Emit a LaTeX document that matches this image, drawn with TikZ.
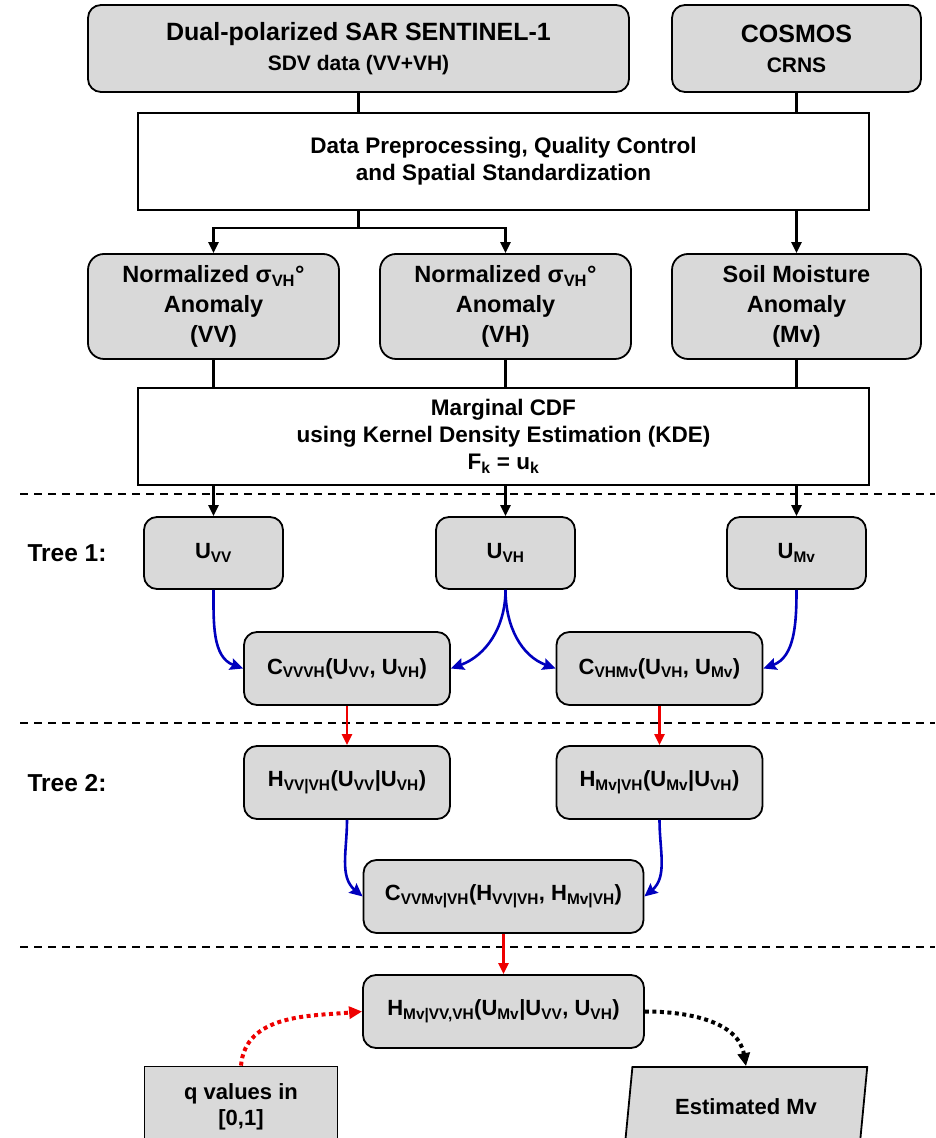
\documentclass[tikz,border=0pt]{standalone}
\usepackage{fontspec}
\setmainfont{Liberation Sans}
\usetikzlibrary{arrows.meta,shapes.geometric}
\definecolor{boxgray}{HTML}{D9D9D9}
\definecolor{linkblue}{HTML}{0000BE}
\definecolor{linkred}{HTML}{EE0000}
\newcommand{\sbx}[1]{\textsubscript{#1}}

\begin{document}
\begin{tikzpicture}[x=1pt,y=1pt,font=\bfseries\fontsize{23.5}{30}\selectfont,
 grey/.style={draw,fill=boxgray,line width=1.8pt,rounded corners=13pt,align=center,inner sep=0pt},
 plain/.style={draw,fill=white,line width=1.6pt,align=center,inner sep=0pt,font=\bfseries\fontsize{22.5}{27}\selectfont},
 small/.style={font=\bfseries\fontsize{22}{26}\selectfont},
 wire/.style={line width=2.4pt},
 flow/.style={line width=2.4pt,-{Triangle[length=11pt,width=10pt]}},
 link/.style={linkblue,line width=2.6pt,-{Stealth[length=13pt,width=12pt,inset=2pt]}},
 cond/.style={linkred,line width=2.2pt,-{Triangle[length=11pt,width=10pt]}},
 sep/.style={line width=1.5pt,dash pattern=on 8pt off 6pt}]
\useasboundingbox (0,0) rectangle (935,1138);
\clip (0,0) rectangle (935,1138);
\foreach \y in {644,415,191}{\draw[sep] (20,\y)--(935,\y);}

\node[grey,minimum width=541pt,minimum height=87pt] (sar) at (358.5,1089.5)
 {\fontsize{25}{27}\selectfont Dual-polarized SAR SENTINEL-1\\{\fontsize{21}{27}\selectfont SDV data (VV+VH)}};
\node[grey,minimum width=249pt,minimum height=87pt] (cosmos) at (796.5,1089.5)
 {\fontsize{25}{27}\selectfont COSMOS\\{\fontsize{21}{27}\selectfont CRNS}};
\node[plain,minimum width=731pt,minimum height=97pt] (prep) at (503.5,976.5)
 {Data Preprocessing, Quality Control\\and Spatial Standardization};

\node[grey,rounded corners=16pt,minimum width=251pt,minimum height=105pt] (nvv) at (213.5,831.5)
 {Normalized σ\sbx{VH}°\\Anomaly\\(VV)};
\node[grey,rounded corners=16pt,minimum width=251pt,minimum height=105pt] (nvh) at (505.5,831.5)
 {Normalized σ\sbx{VH}°\\Anomaly\\(VH)};
\node[grey,rounded corners=16pt,minimum width=249pt,minimum height=105pt] (nmv) at (796.5,831.5)
 {Soil Moisture\\Anomaly\\(Mv)};
\node[plain,minimum width=731pt,minimum height=97pt] (cdf) at (503.5,701.5)
 {Marginal CDF\\using Kernel Density Estimation (KDE)\\F\sbx{k} = u\sbx{k}};

\node[font=\bfseries\fontsize{24.5}{30}\selectfont] (tree1) at (67,585) {Tree 1:};
\node[font=\bfseries\fontsize{24.5}{30}\selectfont] (tree2) at (67,355) {Tree 2:};
\node[grey,small,minimum width=139pt,minimum height=72pt] (uvv) at (213.5,585) {U\sbx{VV}};
\node[grey,small,minimum width=139pt,minimum height=72pt] (uvh) at (505.5,585) {U\sbx{VH}};
\node[grey,small,minimum width=139pt,minimum height=72pt] (umv) at (796.5,585) {U\sbx{Mv}};
\node[grey,small,minimum width=206pt,minimum height=73pt] (cvv) at (347,469.5) {C\sbx{VVVH}(U\sbx{VV}, U\sbx{VH})};
\node[grey,small,minimum width=206pt,minimum height=73pt] (cmv) at (659.5,469.5) {C\sbx{VHMv}(U\sbx{VH}, U\sbx{Mv})};
\node[grey,small,minimum width=206pt,minimum height=73pt] (hvv) at (347,355.5) {H\sbx{VV|VH}(U\sbx{VV}|U\sbx{VH})};
\node[grey,small,minimum width=206pt,minimum height=73pt] (hmv) at (659.5,355.5) {H\sbx{Mv|VH}(U\sbx{Mv}|U\sbx{VH})};
\node[grey,small,minimum width=280pt,minimum height=73pt] (cvm) at (503.5,241.5) {C\sbx{VVMv|VH}(H\sbx{VV|VH}, H\sbx{Mv|VH})};
\node[grey,small,minimum width=281pt,minimum height=73pt] (hfin) at (503.5,126.5) {H\sbx{Mv|VV,VH}(U\sbx{Mv}|U\sbx{VV}, U\sbx{VH})};
\node[grey,small,rounded corners=0pt,minimum width=193pt,minimum height=80pt] (qv) at (241,31.5) {q values in\\{}[0,1]};
\node[grey,small,rounded corners=0pt,trapezium,trapezium left angle=73.5,trapezium right angle=106.5,
 trapezium stretches=true,minimum width=243pt,minimum height=80pt] (est) at (746,31) {Estimated Mv};

\draw[wire] (sar.south) -- (sar.south |- prep.north);
\draw[wire] (cosmos.south) -- (cosmos.south |- prep.north);
\coordinate (fork) at (358.5,910);
\draw[wire] (prep.south -| fork) -- (fork);
\draw[flow] (fork) -| (nvv.north);
\draw[flow] (fork) -| (nvh.north);
\draw[flow] (prep.south -| nmv.north) -- (nmv.north);
\foreach \n in {nvv,nvh,nmv}{\draw[wire] (\n.south) -- (\n.south |- cdf.north);}
\foreach \n in {uvv,uvh,umv}{\draw[flow] (cdf.south -| \n.north) -- (\n.north);}

\draw[link] (uvv.south) to[out=-90,in=160] (cvv.west);
\draw[link] (uvh.south) to[out=-90,in=20] (cvv.east);
\draw[link] (uvh.south) to[out=-90,in=160] (cmv.west);
\draw[link] (umv.south) to[out=-90,in=20] (cmv.east);
\draw[cond] (cvv.south) -- (hvv.north);
\draw[cond] (cmv.south) -- (hmv.north);
\draw[link] (hvv.south) to[out=-90,in=140] (cvm.west);
\draw[link] (hmv.south) to[out=-90,in=40] (cvm.east);
\draw[cond] (cvm.south) -- (hfin.north);

\draw[linkred,line width=4pt,dash pattern=on 4pt off 3.5pt,-{Triangle[length=13pt,width=12pt]}]
 (qv.north) to[out=85,in=185] (hfin.west);
\draw[line width=4pt,dash pattern=on 4pt off 3.5pt,-{Triangle[length=13pt,width=12pt]}]
 (hfin.east) to[out=0,in=100] (est.north);
\end{tikzpicture}
\end{document}
